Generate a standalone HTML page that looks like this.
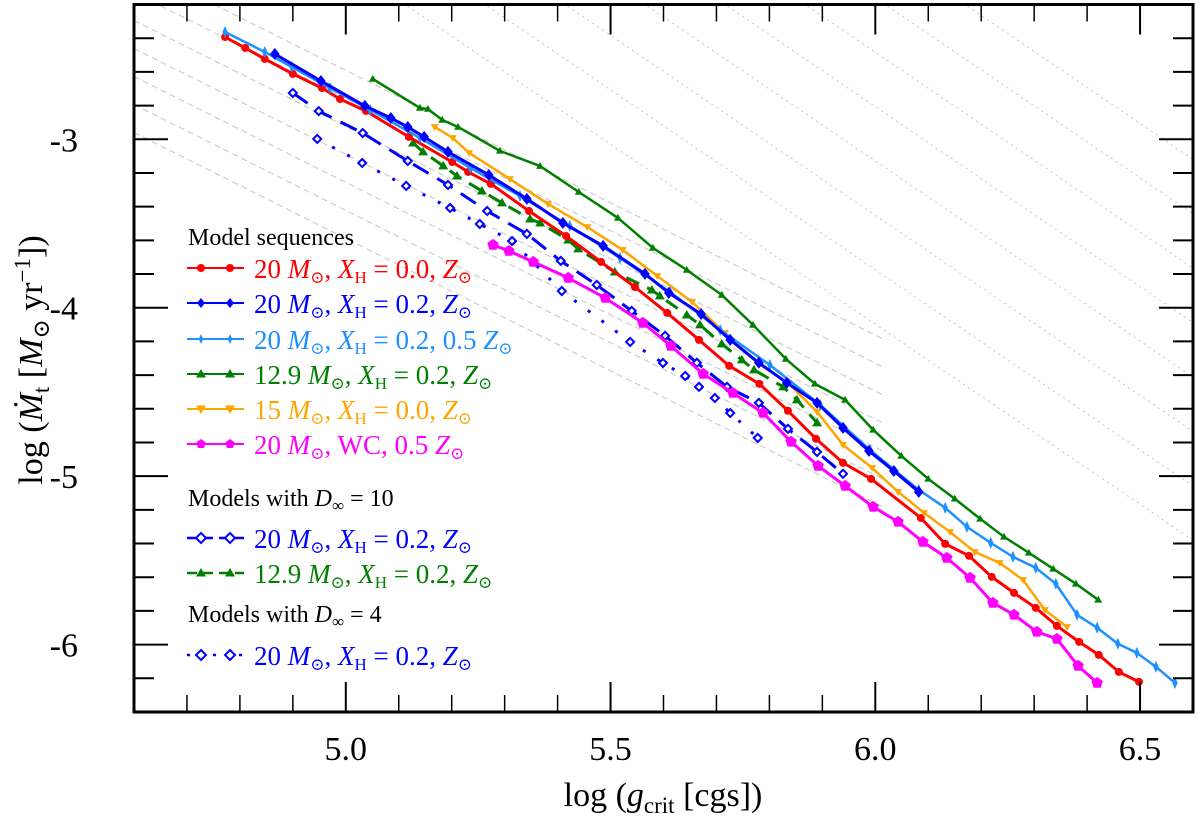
<!DOCTYPE html>
<html><head><meta charset="utf-8"><style>
html,body{margin:0;background:#fff;width:1200px;height:831px;overflow:hidden}
svg{display:block;font-family:"Liberation Serif","DejaVu Serif",serif}
</style></head><body>
<svg id="chart" width="1200" height="831" viewBox="0 0 1200 831" xmlns="http://www.w3.org/2000/svg">
<g id="grid"></g>
<g id="series"></g>
<g id="axes"></g>
<g id="legend"></g>
<text x="663" y="806" text-anchor="middle" font-size="34">log (<tspan font-style="italic">g</tspan><tspan font-size="23" dy="7">crit</tspan><tspan dy="-7"> [cgs])</tspan></text>
<text transform="translate(42,360) rotate(-90)" text-anchor="middle" font-size="34">log (<tspan font-style="italic">Ṁ</tspan><tspan font-size="23" dy="7">t</tspan><tspan dy="-7"> [</tspan><tspan font-style="italic">M</tspan><tspan font-size="23" dy="7">⊙</tspan><tspan dy="-7"> yr</tspan><tspan font-size="23" dy="-12">−1</tspan><tspan dy="12">])</tspan></text>
</svg>
<script>
const xTicks=[5.0,5.5,6.0,6.5];
const xTickLabels=["5.0","5.5","6.0","6.5"];
const yTicks=[-3,-4,-5,-6];
const yTickLabels=["-3","-4","-5","-6"];
const redX=[4.772,4.810,4.847,4.900,4.955,4.989,5.038,5.119,5.201,5.231,5.274,5.346,5.416,5.482,5.546,5.607,5.667,5.724,5.781,5.835,5.888,5.939,5.992,6.086,6.132,6.177,6.220,6.262,6.303,6.343,6.385,6.422,6.460,6.498];
const redY=[-2.393,-2.458,-2.523,-2.612,-2.696,-2.761,-2.832,-2.986,-3.135,-3.194,-3.265,-3.426,-3.574,-3.728,-3.877,-4.031,-4.191,-4.345,-4.452,-4.612,-4.778,-4.921,-5.016,-5.248,-5.402,-5.473,-5.598,-5.693,-5.782,-5.889,-5.984,-6.061,-6.162,-6.221];
const blueX=[4.866,4.953,5.036,5.085,5.117,5.148,5.193,5.270,5.342,5.410,5.486,5.565,5.610,5.671,5.726,5.780,5.833,5.890,5.939,5.988,6.035,6.082];
const blueY=[-2.494,-2.654,-2.802,-2.874,-2.927,-2.986,-3.075,-3.212,-3.354,-3.497,-3.633,-3.799,-3.912,-4.037,-4.191,-4.327,-4.446,-4.565,-4.713,-4.850,-4.969,-5.093];
const lblueX=[4.772,4.847,4.898,4.970,5.046,5.140,5.235,5.329,5.423,5.518,5.612,5.707,5.801,5.896,5.990,6.082,6.132,6.173,6.218,6.260,6.303,6.341,6.381,6.419,6.458,6.494,6.530,6.566];
const lblueY=[-2.363,-2.482,-2.571,-2.696,-2.826,-2.992,-3.170,-3.337,-3.515,-3.705,-3.906,-4.132,-4.340,-4.577,-4.844,-5.081,-5.188,-5.301,-5.396,-5.479,-5.544,-5.639,-5.823,-5.900,-5.995,-6.049,-6.132,-6.227];
const greenX=[5.051,5.140,5.155,5.182,5.212,5.291,5.367,5.440,5.514,5.580,5.644,5.710,5.769,5.831,5.886,5.943,5.996,6.049,6.100,6.150,6.198,6.243,6.290,6.336,6.379,6.421];
const greenY=[-2.642,-2.814,-2.820,-2.885,-2.927,-3.069,-3.159,-3.313,-3.467,-3.645,-3.776,-3.924,-4.102,-4.304,-4.452,-4.547,-4.725,-4.879,-5.016,-5.134,-5.253,-5.360,-5.455,-5.550,-5.639,-5.734];
const orangeX=[5.168,5.202,5.233,5.310,5.382,5.456,5.523,5.588,5.654,5.716,5.777,5.835,5.890,5.939,5.994,6.043,6.092,6.141,6.188,6.235,6.279,6.320,6.362];
const orangeY=[-2.927,-2.992,-3.081,-3.236,-3.384,-3.521,-3.657,-3.811,-3.966,-4.150,-4.328,-4.446,-4.618,-4.814,-4.951,-5.093,-5.218,-5.331,-5.450,-5.515,-5.616,-5.794,-5.895];
const magX=[5.278,5.308,5.354,5.420,5.490,5.561,5.614,5.675,5.731,5.788,5.841,5.892,5.943,5.996,6.043,6.090,6.135,6.179,6.222,6.262,6.305,6.343,6.383,6.419];
const magY=[-3.627,-3.663,-3.728,-3.823,-3.942,-4.090,-4.227,-4.393,-4.506,-4.624,-4.796,-4.939,-5.058,-5.182,-5.271,-5.390,-5.485,-5.604,-5.752,-5.823,-5.924,-5.966,-6.126,-6.227];
const blueD10X=[4.900,4.949,5.032,5.117,5.193,5.267,5.342,5.406,5.474,5.540,5.603,5.663,5.720,5.780,5.835,5.890,5.939];
const blueD10Y=[-2.725,-2.833,-2.963,-3.129,-3.271,-3.426,-3.562,-3.722,-3.865,-4.019,-4.167,-4.327,-4.470,-4.565,-4.719,-4.856,-4.986];
const greenD10X=[5.127,5.146,5.184,5.210,5.257,5.295,5.348,5.367,5.420,5.439,5.508,5.578,5.593,5.644,5.669,5.710,5.748,5.771,5.826,5.852,5.890];
const greenD10Y=[-3.022,-3.075,-3.158,-3.218,-3.307,-3.378,-3.473,-3.497,-3.598,-3.651,-3.788,-3.895,-3.930,-4.043,-4.102,-4.215,-4.310,-4.369,-4.470,-4.547,-4.684];
const blueD4X=[4.946,5.031,5.114,5.197,5.253,5.314,5.408,5.537,5.599,5.641,5.667,5.697,5.726,5.778];
const blueD4Y=[-2.998,-3.141,-3.277,-3.408,-3.503,-3.604,-3.901,-4.203,-4.328,-4.405,-4.470,-4.536,-4.625,-4.773];

const L=134,R=1193,T=4.5,B=712,XMIN=4.6,XMAX=6.6,YMIN=-6.4,YMAX=-2.2;
const sx=v=>L+(v-XMIN)/(XMAX-XMIN)*(R-L);
const sy=v=>T+(YMAX-v)/(YMAX-YMIN)*(B-T);
const NS="http://www.w3.org/2000/svg";
function mk(tag,parent){const e=document.createElementNS(NS,tag);parent.appendChild(e);return e;}
function setA(e,o){for(const k in o)e.setAttribute(k,o[k]);}

const grid=document.getElementById('grid');
const clip=mk('clipPath',document.getElementById('chart'));clip.id='pc';
const cr=mk('rect',clip);setA(cr,{x:L,y:T,width:R-L,height:B-T});
grid.setAttribute('clip-path','url(#pc)');
const dashedOff=[-40,-12,16,44,72,100,128];
dashedOff.forEach(o=>{const l=mk('line',grid);


setA(l,{x1:L,y1:T+o,x2:L+750,y2:T+o+750*0.5,stroke:'#c4c4c4','stroke-width':1,'stroke-dasharray':'6,4'});});
const dottedOff=[280,360,440,520,600,680,760,840];
dottedOff.forEach(o=>{const l=mk('line',grid);


setA(l,{x1:L+o-200,y1:T-130,x2:L+o+900,y2:T-130+1100*0.68,stroke:'#c4c4c4','stroke-width':1,'stroke-dasharray':'2,4'});});

function marker(g,type,x,y,color,s){let e;
 if(type==='circle'){e=mk('circle',g);setA(e,{cx:x,cy:y,r:s,fill:color});}
 else if(type==='diamond'){e=mk('polygon',g);setA(e,{points:`${x},${y-s} ${x+s*0.8},${y} ${x},${y+s} ${x-s*0.8},${y}`,fill:color});}
 else if(type==='thindiamond'){e=mk('polygon',g);setA(e,{points:`${x},${y-s} ${x+s*0.45},${y} ${x},${y+s} ${x-s*0.45},${y}`,fill:color});}
 else if(type==='odiamond'){e=mk('polygon',g);setA(e,{points:`${x},${y-s} ${x+s},${y} ${x},${y+s} ${x-s},${y}`,fill:'#fff',stroke:color,'stroke-width':2});}
 else if(type==='tup'){e=mk('polygon',g);setA(e,{points:`${x},${y-s} ${x+s},${y+s*0.7} ${x-s},${y+s*0.7}`,fill:color});}
 else if(type==='tdown'){e=mk('polygon',g);setA(e,{points:`${x},${y+s} ${x+s},${y-s*0.7} ${x-s},${y-s*0.7}`,fill:color});}
 else if(type==='pent'){e=mk('polygon',g);let p=[];for(let i=0;i<5;i++){const a=-Math.PI/2+i*2*Math.PI/5;p.push((x+s*Math.cos(a))+','+(y+s*Math.sin(a)));}setA(e,{points:p.join(' '),fill:color});}
 
 
}
const series=[
 {name:'series-blue-d4',X:blueD4X,Y:blueD4Y,c:'#0000ff',w:3,dash:'3,14',m:'odiamond',s:4},
 {name:'series-blue-d10',X:blueD10X,Y:blueD10Y,c:'#0000ff',w:3,dash:'18,10',m:'odiamond',s:4},
 {name:'series-green-d10',X:greenD10X,Y:greenD10Y,c:'#008000',w:3,dash:'14,9',m:'tup',s:5},
 {name:'series-magenta-wc',X:magX,Y:magY,c:'#ff00ff',w:3,dash:null,m:'pent',s:6},
 {name:'series-red-xh0',X:redX,Y:redY,c:'#ff0000',w:3,dash:null,m:'circle',s:4},
 {name:'series-orange-15',X:orangeX,Y:orangeY,c:'#ffa500',w:2.5,dash:null,m:'tdown',s:4},
 {name:'series-green-129',X:greenX,Y:greenY,c:'#008000',w:2.5,dash:null,m:'tup',s:4},
 {name:'series-lightblue-05z',X:lblueX,Y:lblueY,c:'#1e90ff',w:2.5,dash:null,m:'thindiamond',s:6},
 {name:'series-blue-xh02',X:blueX,Y:blueY,c:'#0000ff',w:3,dash:null,m:'diamond',s:6},
];
const sg=document.getElementById('series');
series.forEach(S=>{const g=mk('g',sg);
 
 
 const pl=mk('polyline',g);
 
 
 setA(pl,{points:S.X.map((x,i)=>sx(x)+','+sy(S.Y[i])).join(' '),fill:'none',stroke:S.c,'stroke-width':S.w,'stroke-linejoin':'round'});
 if(S.dash)pl.setAttribute('stroke-dasharray',S.dash);
 S.X.forEach((x,i)=>marker(g,S.m,sx(x),sy(S.Y[i]),S.c,S.s));
});

const ax=document.getElementById('axes');
const fr=mk('rect',ax);


setA(fr,{x:L,y:T,width:R-L,height:B-T,fill:'none',stroke:'#000','stroke-width':3});
function tick(x1,y1,x2,y2,w){const l=mk('line',ax);
 
 
 setA(l,{x1,y1,x2,y2,stroke:'#000','stroke-width':w});}
for(let v=4.7;v<6.61;v+=0.1){const x=sx(v);const maj=Math.abs(v*2-Math.round(v*2))<1e-6;const len=maj?30:17;
 tick(x,B,x,B-len,maj?2:1.5);tick(x,T,x,T+len,maj?2:1.5);}
for(let v=-6.2;v<=-2.3;v+=0.2){const y=sy(v);const maj=Math.abs(v-Math.round(v))<1e-6;const len=maj?34:20;
 tick(L,y,L+len,y,2);tick(R,y,R-len,y,2);}
xTicks.forEach((v,i)=>{const t=mk('text',ax);
 
 
 setA(t,{x:sx(v),y:760,'text-anchor':'middle','font-size':34});t.textContent=xTickLabels[i];});
yTicks.forEach((v,i)=>{const t=mk('text',ax);
 
 
 setA(t,{x:78,y:sy(v)+12,'text-anchor':'end','font-size':34});t.textContent=yTickLabels[i];});

const lg=document.getElementById('legend');
function heading(y,html,name){const t=mk('text',lg);
 
 
 setA(t,{x:188,y:y+8,'font-size':24});t.innerHTML=html;}
const msun='<tspan font-style="italic">M</tspan><tspan font-size="17" dy="5">⊙</tspan><tspan dy="-5">, </tspan>';
const xh='<tspan font-style="italic">X</tspan><tspan font-size="17" dy="5">H</tspan><tspan dy="-5"> = </tspan>';
const zs='<tspan font-style="italic">Z</tspan><tspan font-size="17" dy="5">⊙</tspan>';
function entry(y,color,m,dash,label,name){const g=mk('g',lg);
 
 
 const l=mk('line',g);setA(l,{x1:187,y1:y,x2:244,y2:y,stroke:color,'stroke-width':dash?2.5:2});
 if(dash)l.setAttribute('stroke-dasharray',dash);
 marker(g,m,201,y,color,m==='circle'?4:5);marker(g,m,230,y,color,m==='circle'?4:5);
 const t=mk('text',g);setA(t,{x:254,y:y+10,'font-size':27,fill:color});t.innerHTML=label;}
heading(237,'Model sequences','legend-heading-models');
entry(268,'#ff0000','circle',null,'20 '+msun+xh+'0.0, '+zs,'legend-entry-red');
entry(303,'#0000ff','diamond',null,'20 '+msun+xh+'0.2, '+zs,'legend-entry-blue');
entry(339,'#1e90ff','thindiamond',null,'20 '+msun+xh+'0.2, 0.5 '+zs,'legend-entry-lightblue');
entry(374,'#008000','tup',null,'12.9 '+msun+xh+'0.2, '+zs,'legend-entry-green');
entry(409,'#ffa500','tdown',null,'15 '+msun+xh+'0.0, '+zs,'legend-entry-orange');
entry(444,'#ff00ff','pent',null,'20 '+msun+'WC, 0.5 '+zs,'legend-entry-magenta');
heading(498,'Models with <tspan font-style="italic">D</tspan><tspan font-size="17" dy="5">∞</tspan><tspan dy="-5"> = 10</tspan>','legend-heading-d10');
entry(538,'#0000ff','odiamond','10,6','20 '+msun+xh+'0.2, '+zs,'legend-entry-blue-d10');
entry(573,'#008000','tup','10,6','12.9 '+msun+xh+'0.2, '+zs,'legend-entry-green-d10');
heading(614,'Models with <tspan font-style="italic">D</tspan><tspan font-size="17" dy="5">∞</tspan><tspan dy="-5"> = 4</tspan>','legend-heading-d4');
entry(655,'#0000ff','odiamond','3,10','20 '+msun+xh+'0.2, '+zs,'legend-entry-blue-d4');
</script>
</body></html>
